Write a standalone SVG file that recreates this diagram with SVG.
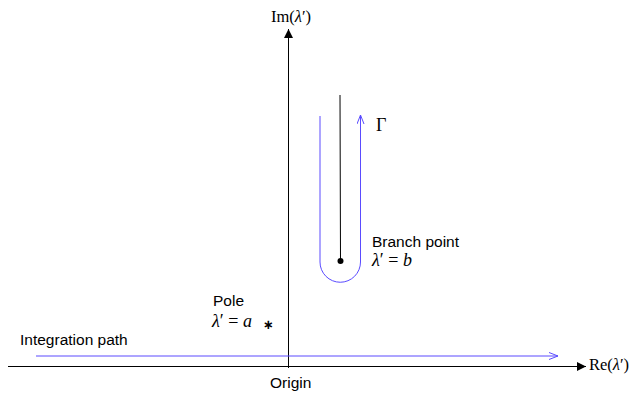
<svg xmlns="http://www.w3.org/2000/svg" width="636" height="394" viewBox="0 0 636 394">
<style>
.sans{font-family:"Liberation Sans",Arial,sans-serif;font-size:15.5px;fill:#000}
.serif{font-family:"Liberation Serif","Times New Roman",serif;font-size:16.5px;fill:#000}
.expr{font-family:"Liberation Serif","Times New Roman",serif;font-size:18px;fill:#000}
.it{font-style:italic}
.axis{stroke:#000;stroke-width:1;fill:none}
.blue{stroke:#5a4bff;stroke-width:1;fill:none}
</style>
<defs>
<marker id="ah" markerWidth="10" markerHeight="9" refX="9" refY="4.5" orient="auto" markerUnits="userSpaceOnUse">
<path d="M0,0 L9,4.5 L0,9 Z" fill="#000"/>
</marker>
<marker id="open" markerWidth="10" markerHeight="8" refX="9" refY="4" orient="auto" markerUnits="userSpaceOnUse">
<path d="M0,0.5 L9,4 L0,7.5" fill="none" stroke="#5a4bff" stroke-width="1"/>
</marker>
</defs>
<g id="connectors">
<line id="re-axis" class="axis" x1="8" y1="366.5" x2="586" y2="366.5" marker-end="url(#ah)"/>
<line id="im-axis" class="axis" x1="288.5" y1="368" x2="288.5" y2="29" marker-end="url(#ah)"/>
<line id="integration-path" class="blue" x1="36" y1="356" x2="558" y2="356" marker-end="url(#open)"/>
<line id="branch-cut" stroke="#000" stroke-width="1" x1="340" y1="95" x2="340.5" y2="261"/>
<path id="gamma-contour" class="blue" d="M320,116 L320,262 A20,20 0 0 0 360.5,262 L360.5,115" marker-end="url(#open)"/>
</g>
<g id="im-label"><text class="serif" x="271" y="22">Im(<tspan class="it">λ</tspan>′)</text></g>
<g id="re-label"><text class="serif" x="589" y="370">Re(<tspan class="it">λ</tspan>′)</text></g>
<g id="gamma-label"><text class="expr" x="376" y="131">Γ</text></g>
<g id="branch-point">
<circle cx="340.5" cy="261" r="3" fill="#000"/>
<text class="sans" x="372" y="247">Branch point</text>
<text class="expr" x="372" y="266"><tspan class="it">λ</tspan>′ = <tspan class="it">b</tspan></text>
</g>
<g id="pole">
<text class="sans" x="213" y="306">Pole</text>
<text class="expr" x="212" y="327"><tspan class="it">λ</tspan>′ = <tspan class="it">a</tspan></text>
<text x="263" y="329" font-family="DejaVu Sans,sans-serif" font-size="13" font-weight="bold">∗</text>
</g>
<g id="origin"><text class="sans" x="270" y="388">Origin</text></g>
<g id="integration-label"><text class="sans" x="20" y="345">Integration path</text></g>
</svg>
